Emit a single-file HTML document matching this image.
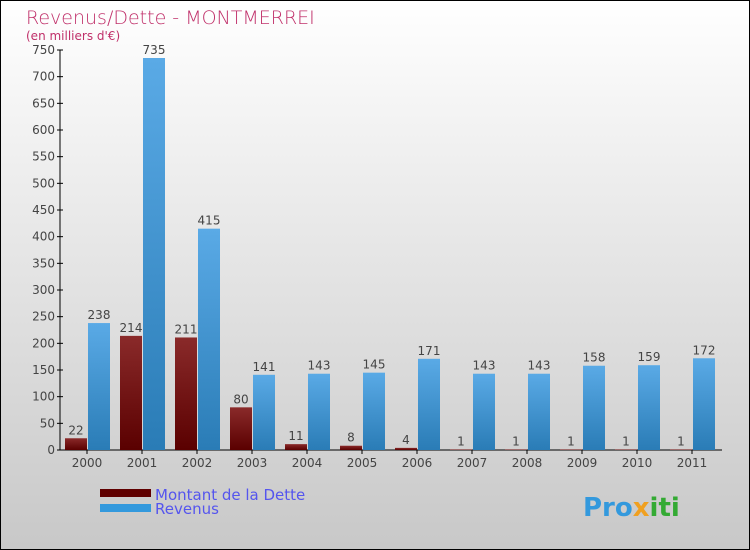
<!DOCTYPE html>
<html><head><meta charset="utf-8"><style>
body{margin:0}
svg{display:block;font-family:"DejaVu Sans","Liberation Sans",sans-serif}
</style></head><body>
<svg id="chart" width="750" height="550" viewBox="0 0 750 550" xmlns="http://www.w3.org/2000/svg">
<defs>
<linearGradient id="bg" x1="0" y1="0" x2="0" y2="1"><stop offset="0" stop-color="#ffffff"/><stop offset="1" stop-color="#c8c8c8"/></linearGradient>
<linearGradient id="gd" x1="0" y1="0" x2="0" y2="1"><stop offset="0" stop-color="#8a2a2a"/><stop offset="1" stop-color="#5a0000"/></linearGradient>
<linearGradient id="gr" x1="0" y1="0" x2="0" y2="1"><stop offset="0" stop-color="#5aaae6"/><stop offset="1" stop-color="#2a7cb6"/></linearGradient>
</defs>
<rect x="0.5" y="0.5" width="749" height="549" fill="url(#bg)" stroke="#000"/>
<text x="26" y="24" font-size="19" fill="#c0306a" style="font-weight:200">Revenus/Dette - MONTMERREI</text>
<text x="26" y="40" font-size="12" fill="#c0306a">(en milliers d'€)</text>
<g id="axes"></g>
<g id="bars"></g>
<g>
<rect x="100" y="489" width="51" height="8" fill="#600000"/>
<text x="155" y="500" font-size="15" fill="#5555ee">Montant de la Dette</text>
<rect x="100" y="504" width="51" height="8" fill="#3399dd"/>
<text x="155" y="514" font-size="15" fill="#5555ee">Revenus</text>
</g>
<text x="583" y="516" font-size="26" font-weight="bold"><tspan fill="#3399dd">Pro</tspan><tspan fill="#f0a020">x</tspan><tspan fill="#33aa33">iti</tspan></text>
</svg>
<script>
const years=["2000","2001","2002","2003","2004","2005","2006","2007","2008","2009","2010","2011"];
const dette=[22,214,211,80,11,8,4,1,1,1,1,1];
const revenus=[238,735,415,141,143,145,171,143,143,158,159,172];
const yTicks=[0,50,100,150,200,250,300,350,400,450,500,550,600,650,700,750];
const NS="http://www.w3.org/2000/svg";
const x0=60,x1=722,yb=450,yt=50,ymax=750,step=55;
const y=v=>yb-(v/ymax)*(yb-yt);
const cx=i=>87+i*step;
function mk(t,a,p){const e=document.createElementNS(NS,t);for(const k in a)e.setAttribute(k,a[k]);p.appendChild(e);return e;}
const ax=document.getElementById('axes'),bg=document.getElementById('bars');
const yl=mk('line',{x1:x0,y1:yt,x2:x0,y2:yb,stroke:'#000'},ax);


const xl=mk('line',{x1:x0,y1:yb,x2:x1,y2:yb,stroke:'#000'},ax);


yTicks.forEach(v=>{
 mk('line',{x1:x0-3,y1:y(v),x2:x0+3,y2:y(v),stroke:'#000'},ax);
 const t=mk('text',{x:x0-5,y:y(v)+4,'text-anchor':'end','font-size':12,fill:'#444'},ax);
 t.textContent=v;
 
 
});
years.forEach((yr,i)=>{
 const c=cx(i);
 mk('line',{x1:c,y1:yb,x2:c,y2:yb+4,stroke:'#000'},ax);
 const t=mk('text',{x:c,y:yb+17,'text-anchor':'middle','font-size':12,fill:'#444'},ax);
 t.textContent=yr;
 
 
 const d=mk('rect',{x:c-22,y:y(dette[i]),width:22,height:yb-y(dette[i]),fill:'url(#gd)'},bg);
 
 
 const dl=mk('text',{x:c-11,y:y(dette[i])-4,'text-anchor':'middle','font-size':12,fill:'#444'},bg);
 dl.textContent=dette[i];
 
 
 const r=mk('rect',{x:c+1,y:y(revenus[i]),width:22,height:yb-y(revenus[i]),fill:'url(#gr)'},bg);
 
 
 const rl=mk('text',{x:c+12,y:y(revenus[i])-4,'text-anchor':'middle','font-size':12,fill:'#444'},bg);
 rl.textContent=revenus[i];
 
 
});
</script>
</body></html>
